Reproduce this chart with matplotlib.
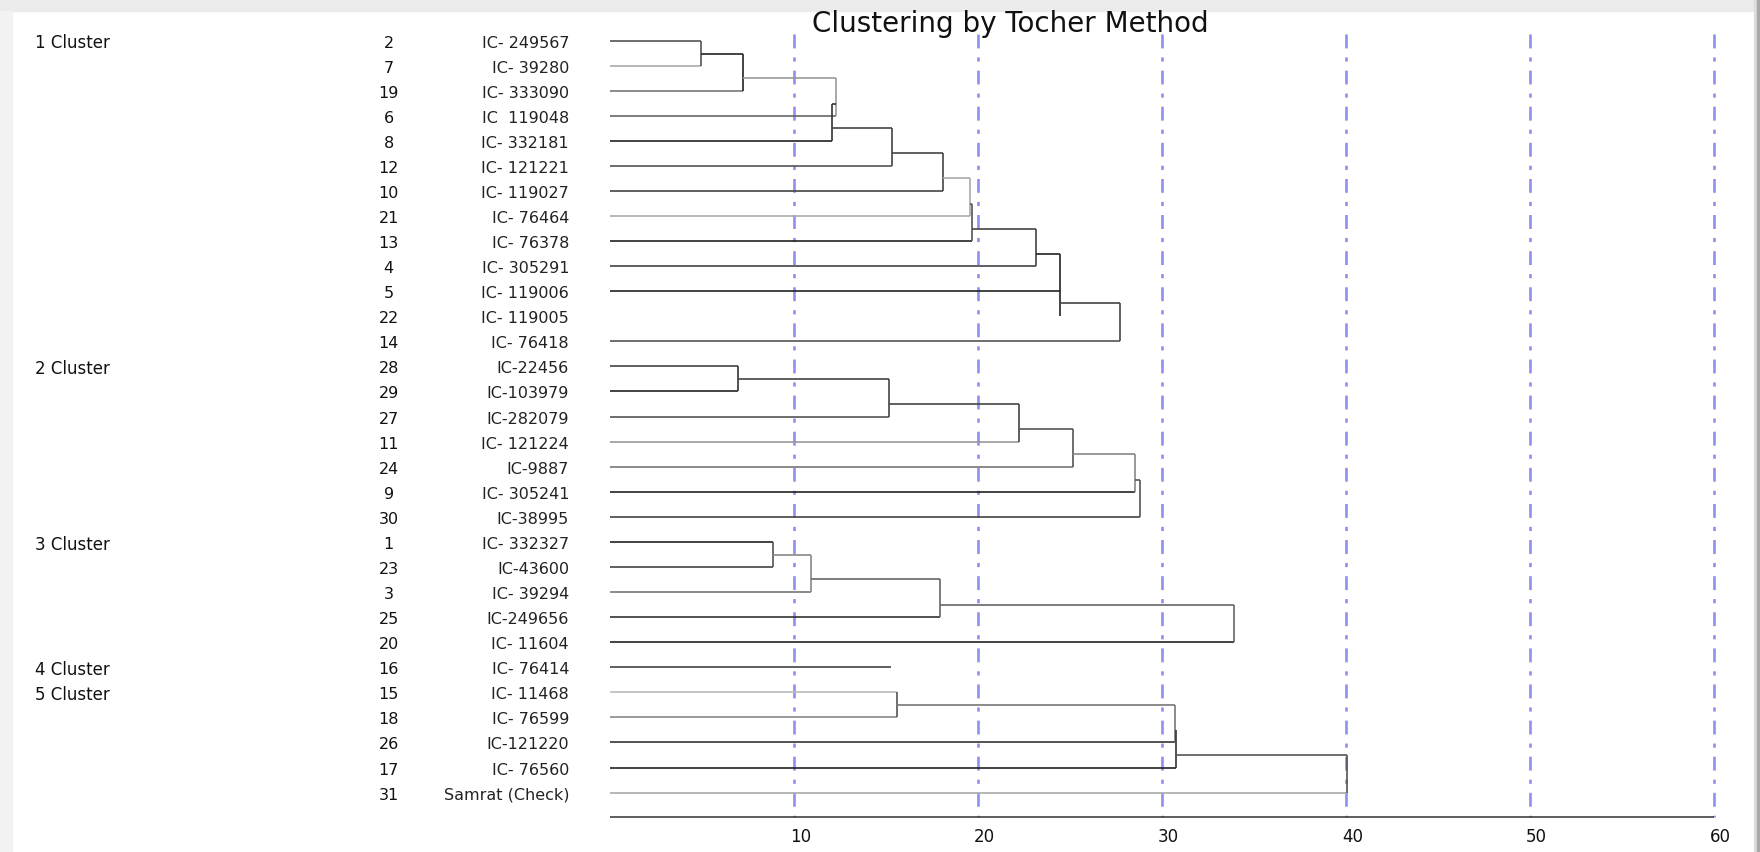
##########################################################################################
################################### Importing Packages ###################################
##########################################################################################
import numpy as np
import matplotlib
matplotlib.use("Agg")
import matplotlib.pyplot as plt
from matplotlib.patches import Rectangle

##########################################################################################
######################################## Data ############################################
##########################################################################################
# genotype serial numbers and names, in dendrogram order (top to bottom)
row_ids = [2, 7, 19, 6, 8, 12, 10, 21, 13, 4, 5, 22, 14,
           28, 29, 27, 11, 24, 9, 30,
           1, 23, 3, 25, 20,
           16,
           15, 18, 26, 17, 31]
genotypes = ["IC- 249567", "IC- 39280", "IC- 333090", "IC  119048", "IC- 332181",
             "IC- 121221", "IC- 119027", "IC- 76464", "IC- 76378", "IC- 305291",
             "IC- 119006", "IC- 119005", "IC- 76418",
             "IC-22456", "IC-103979", "IC-282079", "IC- 121224", "IC-9887",
             "IC- 305241", "IC-38995",
             "IC- 332327", "IC-43600", "IC- 39294", "IC-249656", "IC- 11604",
             "IC- 76414",
             "IC- 11468", "IC- 76599", "IC-121220", "IC- 76560", "Samrat (Check)"]

cluster_names = ["1 Cluster", "2 Cluster", "3 Cluster", "4 Cluster", "5 Cluster"]
cluster_first_row = [0, 13, 20, 25, 26]

# distance at which each leaf line ends (nan = no line drawn)
leaf_len = [4.99, 4.99, 7.28, 12.33, 12.08, 15.33, 18.11, 19.57, 19.70, 23.17, 24.48, np.nan, 27.72,
            6.97, 6.97, 15.2, 22.27, 25.21, 28.55, 28.83,
            8.9, 8.9, 10.94, 17.97, 33.94,
            15.29,
            15.62, 15.62, 30.73, 30.79, 40.1]

# merge links: distance of the vertical, its top / bottom (row units),
# and the distance the incoming connector starts from (nan = none)
link_dist = [4.99, 7.28, 12.33, 12.08, 15.33, 18.11, 19.57, 19.70, 23.17, 24.48, 27.72,
             6.97, 15.2, 22.27, 25.21, 28.55, 28.83,
             8.9, 10.94, 17.97, 33.94,
             15.62, 30.73, 30.79, 40.1]
link_top = [0, 0.54, 1.51, 2.53, 3.5, 4.5, 5.5, 6.52, 7.52, 8.53, 10.49,
            13, 13.5, 14.51, 15.5, 16.5, 17.52,
            20, 20.52, 21.49, 22.52,
            26, 26.52, 27.49, 28.5]
link_bottom = [1, 2, 3, 4, 5, 6, 7, 8, 9, 11, 12,
               14, 15, 16, 17, 18, 19,
               21, 22, 23, 24,
               27, 28, 29, 30]
link_from = [np.nan, 4.99, 7.28, 12.33, 12.08, 15.33, 18.11, 19.57, 19.70, 23.17, 24.48,
             np.nan, 6.97, 15.2, 22.27, 25.21, 28.55,
             np.nan, 8.9, 10.94, 17.97,
             np.nan, 15.62, np.nan, 30.79]

x_ticks = [10, 20, 30, 40, 50, 60]

##########################################################################################
######################################## Styling #########################################
##########################################################################################
leaf_shade = ['#555', '#aaa', '#777', '#666', '#222', '#555', '#444', '#aaa', '#222', '#444',
              '#222', '#444', '#555', '#444', '#222', '#555', '#999', '#777', '#222', '#444',
              '#222', '#444', '#777', '#333', '#222', '#444', '#bbb', '#888', '#333', '#222', '#aaa']
link_shade = ['#555', '#222', '#999', '#333', '#444', '#444', '#aaa', '#555', '#444', '#222', '#444',
              '#333', '#444', '#444', '#555', '#888', '#555',
              '#555', '#888', '#666', '#666',
              '#555', '#777', '#333', '#555']

plt.rcParams['font.family'] = ['DejaVu Sans']
plt.rcParams['lines.scale_dashes'] = False

px_per_unit = 18.4      # horizontal scale
zero_px = 609.5         # pixel of distance 0
row0_px = 41.5          # pixel of first row
row_px = 25.07          # row spacing
W, H = 1760, 853

fig = plt.figure(figsize=(W / 100, H / 100), dpi=100)
ax = fig.add_axes([0, 0, 1, 1])
ax.set_xlim(-zero_px / px_per_unit, (W - zero_px) / px_per_unit)
ax.set_ylim((H - row0_px) / row_px, -row0_px / row_px)
ax.axis('off')
ax.set_zorder(1)

# window frame
fig.patches.append(Rectangle((0, 1 - 12 / H), 1, 12 / H, transform=fig.transFigure,
                             color='#ebebeb', zorder=-1))
fig.patches.append(Rectangle((0, 0), 12 / W, 1 - 12 / H, transform=fig.transFigure,
                             color='#f2f2f2', zorder=-1))
fig.patches.append(Rectangle((1 - 6 / W, 0), 3 / W, 1, transform=fig.transFigure,
                             color='#dddddd', zorder=-1))
fig.patches.append(Rectangle((1 - 3 / W, 0), 3 / W, 1, transform=fig.transFigure,
                             color='#a8a8a8', zorder=-1))

##########################################################################################
##################################### Grid and axis ######################################
##########################################################################################
axis_row = len(row_ids) - 0.03
ax.vlines(x_ticks, -0.26, axis_row, colors='#8f8ff0', lw=1.9,
          linestyles=[(0, (10, 6.5, 3, 6.5))], zorder=1)
ax.hlines(axis_row, 0, x_ticks[-1], colors='#333333', lw=1.1, zorder=3)
for t in x_ticks:
    ax.text(t + 0.38, axis_row + 0.77, str(t), ha='center', va='center',
            fontsize=12, color='#111111')

ax.text(21.8, -0.38, "Clustering by Tocher Method", ha='center', va='baseline',
        fontsize=20, color='#111111', zorder=5)

##########################################################################################
####################################### Dendrogram #######################################
##########################################################################################
for i, length in enumerate(leaf_len):
    if not np.isnan(length):
        ax.hlines(i, 0, length, colors=leaf_shade[i], lw=1.2, zorder=2)

for d, top, bot, start, c in zip(link_dist, link_top, link_bottom, link_from, link_shade):
    ax.vlines(d, top, bot, colors=c, lw=1.2, zorder=2)
    if not np.isnan(start):
        ax.hlines(top, start, d, colors=c, lw=1.2, zorder=2)

##########################################################################################
######################################### Labels #########################################
##########################################################################################
for i, (num, name) in enumerate(zip(row_ids, genotypes)):
    ax.text(-12.0, i, str(num), ha='center', va='center_baseline', fontsize=11.5, color='#111111')
    ax.text(-2.2, i, name, ha='right', va='center_baseline', fontsize=11.5, color='#222222')

for name, r in zip(cluster_names, cluster_first_row):
    ax.text(-31.2, r, name, ha='left', va='center_baseline', fontsize=12, color='#111111')

fig.savefig('out.png', dpi=100)
